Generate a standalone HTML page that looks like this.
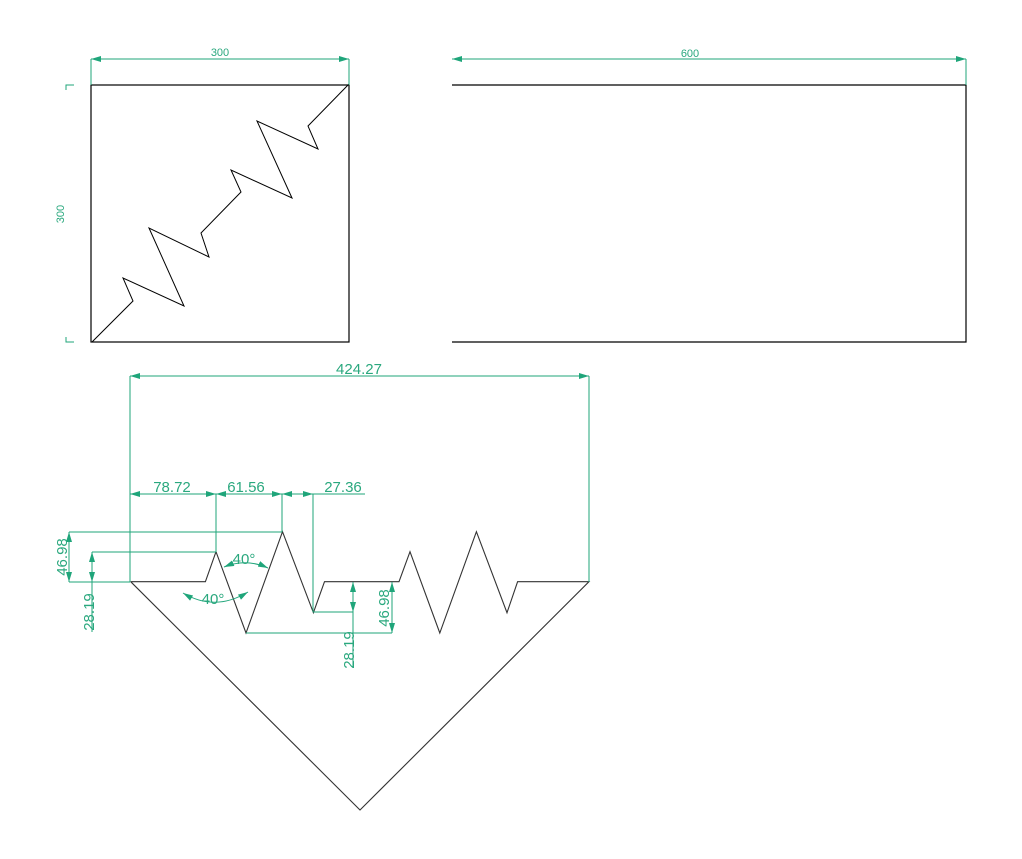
<!DOCTYPE html>
<html><head><meta charset="utf-8"><style>
html,body{margin:0;padding:0;background:#fff;width:1022px;height:859px;overflow:hidden}
svg{display:block}
text{font-family:"Liberation Sans",sans-serif;fill:#2aa87e}
</style></head><body>
<svg width="1022" height="859" viewBox="0 0 1022 859" xmlns="http://www.w3.org/2000/svg">
<defs>
<marker id="a" viewBox="0 0 10 6" refX="10" refY="3" markerWidth="10" markerHeight="6" orient="auto-start-reverse" markerUnits="userSpaceOnUse"><path d="M0,0L10,3L0,6z" fill="#1fa57a"/></marker>
</defs>
<g fill="none" stroke="#000" stroke-width="1.2">
<rect x="91" y="85" width="258" height="257"/>
<polyline stroke-width="1" points="92,342 133,301 123,278 184,306 149,228 209,257 201,233 241,192 231,170 292,198 257,121 318,149 308,126 349,84"/>
<polyline points="452,85 966,85 966,342 452,342"/>
</g>
<g fill="none" stroke="#333" stroke-width="1.1">
<polyline points="130.7,581.7 205.4,581.7 216,551.7 246,633 282.5,531.7 313.4,612.7 324.5,581.7 399,581.7 410,551.7 439.8,633 476.4,531.7 507,612.7 517.6,581.7 589,581.7 360,810 130.7,581.7"/>
</g>
<g fill="none" stroke="#1fa57a" stroke-width="1">
<!-- top dims -->
<line x1="91" y1="59" x2="349" y2="59" marker-start="url(#a)" marker-end="url(#a)"/>
<line x1="91" y1="59" x2="91" y2="85"/><line x1="349" y1="59" x2="349" y2="85"/>
<line x1="452" y1="59" x2="966" y2="59" marker-start="url(#a)" marker-end="url(#a)"/>
<line x1="966" y1="59" x2="966" y2="85"/>
<line x1="66" y1="85" x2="66" y2="342" stroke-opacity="0"/>
<polyline points="66,90 66,85 74,85"/><polyline points="66,337 66,342 74,342"/>
<!-- 424.27 -->
<line x1="130" y1="376" x2="589" y2="376" marker-start="url(#a)" marker-end="url(#a)"/>
<line x1="130" y1="376" x2="130" y2="582"/><line x1="589" y1="376" x2="589" y2="582"/>
<!-- subdims -->
<line x1="130" y1="494" x2="216" y2="494" marker-start="url(#a)" marker-end="url(#a)"/>
<line x1="216" y1="494" x2="282" y2="494" marker-start="url(#a)" marker-end="url(#a)"/>
<line x1="282" y1="494" x2="313" y2="494" marker-start="url(#a)" marker-end="url(#a)"/>
<line x1="313" y1="494" x2="365" y2="494"/>
<line x1="216" y1="494" x2="216" y2="552"/><line x1="282" y1="494" x2="282" y2="532"/><line x1="313" y1="494" x2="313" y2="612"/>
<!-- left verticals -->
<line x1="69" y1="532" x2="282" y2="532"/><line x1="92" y1="552" x2="216" y2="552"/>
<line x1="69" y1="582" x2="130" y2="582"/>
<line x1="69" y1="532" x2="69" y2="582" marker-start="url(#a)" marker-end="url(#a)"/>
<line x1="92" y1="552" x2="92" y2="582" marker-start="url(#a)" marker-end="url(#a)"/>
<line x1="92" y1="582" x2="92" y2="632"/>
<!-- bottom verticals -->
<line x1="246" y1="633" x2="392" y2="633"/><line x1="313" y1="612" x2="353" y2="612"/>
<line x1="353" y1="582" x2="353" y2="612" marker-start="url(#a)" marker-end="url(#a)"/>
<line x1="353" y1="612" x2="353" y2="668"/>
<line x1="392" y1="582" x2="392" y2="633" marker-start="url(#a)" marker-end="url(#a)"/>
<!-- arcs -->
<path d="M224,567 Q246,558 268,568" marker-start="url(#a)" marker-end="url(#a)"/>
<path d="M183,593 Q215,612 248,592" marker-start="url(#a)" marker-end="url(#a)"/>
</g>
<g font-size="11">
<text x="220" y="56" text-anchor="middle">300</text>
<text x="690" y="57" text-anchor="middle">600</text>
<text x="64" y="214" text-anchor="middle" transform="rotate(-90 64 214)">300</text>
</g>
<g font-size="15">
<text x="359" y="374" text-anchor="middle">424.27</text>
<text x="172" y="492" text-anchor="middle">78.72</text>
<text x="246" y="492" text-anchor="middle">61.56</text>
<text x="343" y="492" text-anchor="middle">27.36</text>
<text x="244" y="564" text-anchor="middle">40°</text>
<text x="213" y="604" text-anchor="middle">40°</text>
<text x="67" y="557" text-anchor="middle" transform="rotate(-90 67 557)">46.98</text>
<text x="94" y="612" text-anchor="middle" transform="rotate(-90 94 612)">28.19</text>
<text x="354" y="650" text-anchor="middle" transform="rotate(-90 354 650)">28.19</text>
<text x="389" y="608" text-anchor="middle" transform="rotate(-90 389 608)">46.98</text>
</g>
</svg>
</body></html>
